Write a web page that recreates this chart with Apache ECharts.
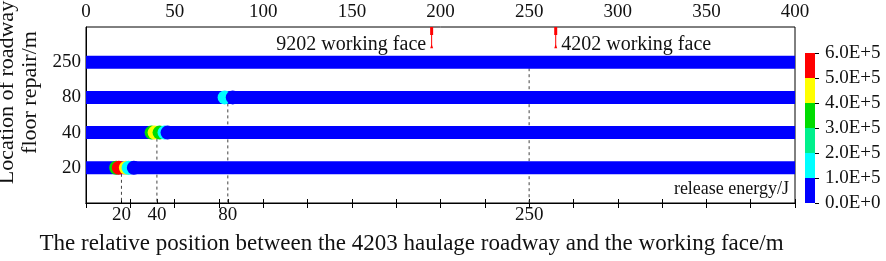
<!DOCTYPE html>
<html>
<head>
<meta charset="utf-8">
<script src="https://cdn.jsdelivr.net/npm/echarts@6/dist/echarts.min.js"></script>
<style>
  html, body { margin: 0; padding: 0; background: #fff; }
  #chart { width: 886px; height: 261px; }
</style>
</head>
<body>
<div id="chart"></div>
<script>
// rows (bottom to top) and their labels
var rowLabels = ['', '20', '40', '80', '250', '']
var rowIndex = [1, 2, 3, 4]

// released energy dots: position along the roadway, row, energy (J)
var row20Pos = [17, 18.5, 22.5, 24, 27]
var row20Energy = [3.5e5, 5.5e5, 4.5e5, 1.5e5, 0.5e5]
var row40Pos = [37, 38.7, 41.5, 44.3, 46]
var row40Energy = [3.5e5, 4.5e5, 3.5e5, 1.5e5, 0.5e5]
var row80Pos = [78.2, 82.8]
var row80Energy = [1.5e5, 0.5e5]

// dashed guide lines down to the bottom axis
var guideX = [20, 40, 80, 250]
var guideRow = [1, 2, 3, 4]

// working faces
var faceNames = ['9202 working face', '4202 working face']
var facePos = [195, 265]
var faceSide = ['left', 'right']

// colour scale
var energyBreaks = [0, 1e5, 2e5, 3e5, 4e5, 5e5, 6e5]
var energyColors = ['#0000ff', '#00ffff', '#00f08c', '#00dc00', '#ffff00', '#ff0000']

var bottomTicks = []
for (var t = 0; t <= 400; t += 25) bottomTicks.push(t)
guideX.forEach(function (g) { if (bottomTicks.indexOf(g) < 0) bottomTicks.push(g) })
bottomTicks.sort(function (a, b) { return a - b })

var font = 'Liberation Serif'
var chart = echarts.init(document.getElementById('chart'))

var series = []

// dashed guides
guideX.forEach(function (x, i) {
  series.push({
    type: 'line',
    xAxisIndex: 0,
    yAxisIndex: 0,
    z: 1,
    symbol: 'none',
    silent: true,
    lineStyle: { color: '#444', width: 1, type: [3, 3] },
    data: [[x, guideRow[i]], [x, 0]]
  })
})

// blue roadway bars
rowIndex.forEach(function (r) {
  series.push({
    type: 'line',
    xAxisIndex: 0,
    yAxisIndex: 0,
    z: 2,
    symbol: 'none',
    lineStyle: { color: energyColors[0], width: 13, cap: 'butt' },
    data: [[0, r], [400, r]]
  })
})

// energy dots
var dots = []
row20Pos.forEach(function (x, i) { dots.push([x, 1, row20Energy[i]]) })
row40Pos.forEach(function (x, i) { dots.push([x, 2, row40Energy[i]]) })
row80Pos.forEach(function (x, i) { dots.push([x, 3, row80Energy[i]]) })
var dotIndex = series.length
series.push({
  type: 'scatter',
  xAxisIndex: 0,
  yAxisIndex: 0,
  z: 3,
  symbolSize: 14,
  itemStyle: { opacity: 1 },
  data: dots
})

// working face markers
facePos.forEach(function (x, i) {
  series.push({
    type: 'line',
    xAxisIndex: 0,
    yAxisIndex: 0,
    z: 4,
    clip: false,
    lineStyle: { color: '#ff0000', width: 1 },
    itemStyle: { color: '#ff0000' },
    data: [
      { value: [x, 5], symbol: 'rect', symbolSize: [3, 8], symbolOffset: [0, 4] },
      {
        value: [x, 4.45], symbol: 'triangle', symbolSize: [3, 4],
        label: {
          show: true, position: faceSide[i], distance: 4, offset: [0, -2],
          formatter: faceNames[i], color: '#111', fontFamily: font, fontSize: 20
        }
      }
    ]
  })
})

// colour bar legend
for (var k = 0; k < energyColors.length; k++) {
  series.push({
    type: 'bar',
    xAxisIndex: 2,
    yAxisIndex: 1,
    stack: 'legend',
    barWidth: '100%',
    silent: true,
    itemStyle: { color: energyColors[k] },
    data: [energyBreaks[k + 1] - energyBreaks[k]]
  })
}

var pieces = []
for (var p = 0; p < energyColors.length; p++) {
  pieces.push({ gte: energyBreaks[p], lt: energyBreaks[p + 1], color: energyColors[p] })
}

chart.setOption({
  animation: false,
  textStyle: { fontFamily: font },
  grid: [
    { left: 86, right: 91, top: 27, bottom: 58, show: true, borderColor: '#000', borderWidth: 1, outerBoundsMode: 'none' },
    { left: 805, width: 10, top: 53, height: 150, outerBoundsMode: 'none' }
  ],
  visualMap: {
    show: false,
    type: 'piecewise',
    seriesIndex: dotIndex,
    dimension: 2,
    pieces: pieces
  },
  xAxis: [
    {
      type: 'value', gridIndex: 0, position: 'top', min: 0, max: 400, interval: 50,
      axisLine: { lineStyle: { color: '#000', width: 1 } },
      axisTick: { inside: true, length: 5, lineStyle: { color: '#000' } },
      minorTick: { show: true, splitNumber: 2, length: 5, lineStyle: { color: '#000' } },
      splitLine: { show: false },
      axisLabel: { color: '#111', fontSize: 19, margin: 5 }
    },
    {
      type: 'value', gridIndex: 0, position: 'bottom', min: 0, max: 400,
      axisLine: { lineStyle: { color: '#000', width: 1 } },
      axisTick: { inside: true, length: 4, customValues: bottomTicks, lineStyle: { color: '#000' } },
      splitLine: { show: false },
      axisLabel: { color: '#111', fontSize: 19, margin: 3, customValues: guideX },
      name: 'The relative position between the 4203 haulage roadway and the working face/m',
      nameLocation: 'middle',
      nameGap: 29,
      nameTextStyle: { color: '#111', fontSize: 23, fontFamily: font, padding: [0, 58, 0, 0] }
    },
    {
      type: 'category', gridIndex: 1, data: [''], show: false
    }
  ],
  yAxis: [
    {
      type: 'value', gridIndex: 0, min: 0, max: 5, interval: 1,
      axisLine: { show: true, lineStyle: { color: '#000', width: 1 } },
      axisTick: { show: false },
      splitLine: { show: false },
      axisLabel: {
        color: '#111', fontSize: 19, margin: 5,
        formatter: function (v) { return rowLabels[v] }
      },
      name: 'Location of roadway\nfloor repair/m',
      nameLocation: 'middle',
      nameRotate: 90,
      nameGap: 35,
      nameTextStyle: { color: '#111', fontSize: 22, lineHeight: 23, fontFamily: font, padding: [0, 0, 0, 45] }
    },
    {
      type: 'value', gridIndex: 1, position: 'right', min: 0, max: 6e5, interval: 1e5,
      axisLine: { show: false },
      axisTick: { show: true, length: 4, lineStyle: { color: '#000' } },
      splitLine: { show: false },
      axisLabel: {
        color: '#111', fontSize: 19, margin: 10,
        formatter: function (v) { return v === 0 ? '0.0E+0' : (v / 1e5).toFixed(1) + 'E+5' }
      }
    }
  ],
  graphic: [
    {
      type: 'text', right: 97, top: 180,
      style: { text: 'release energy/J', font: '18px "Liberation Serif"', fill: '#111' }
    }
  ],
  series: series
})
</script>
</body>
</html>
